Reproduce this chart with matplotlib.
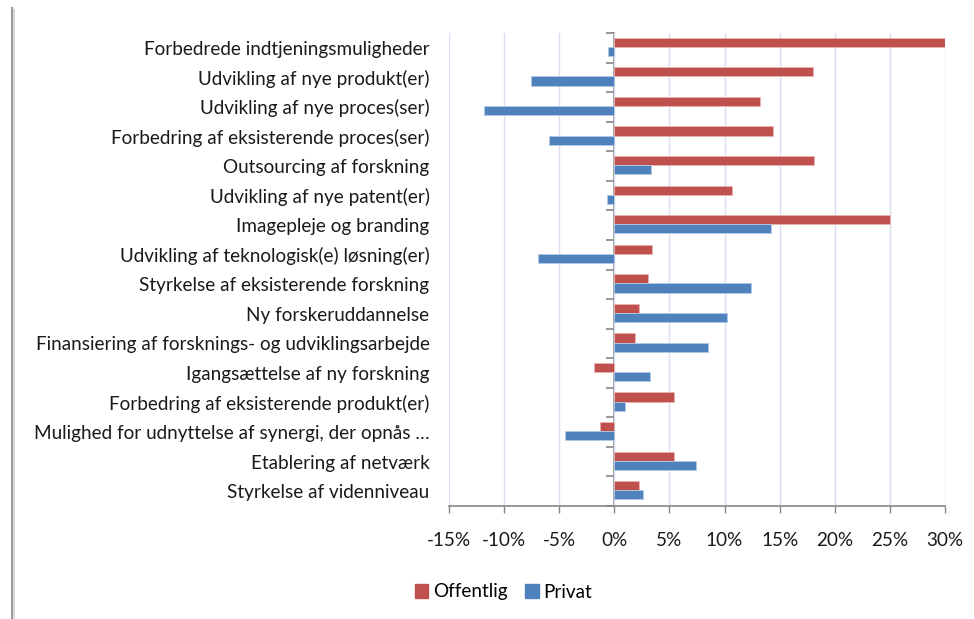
import matplotlib
matplotlib.use("Agg")
import matplotlib.pyplot as plt
import numpy as np
from matplotlib.lines import Line2D
from matplotlib.patches import Patch
from matplotlib.ticker import FixedLocator

plt.rcParams['font.family'] = ['Lato', 'DejaVu Sans']

categories = [
    "Forbedrede indtjeningsmuligheder",
    "Udvikling af nye produkt(er)",
    "Udvikling af nye proces(ser)",
    "Forbedring af eksisterende proces(ser)",
    "Outsourcing af forskning",
    "Udvikling af nye patent(er)",
    "Imagepleje og branding",
    "Udvikling af teknologisk(e) løsning(er)",
    "Styrkelse af eksisterende forskning",
    "Ny forskeruddannelse",
    "Finansiering af forsknings- og udviklingsarbejde",
    "Igangsættelse af ny forskning",
    "Forbedring af eksisterende produkt(er)",
    "Mulighed for udnyttelse af synergi, der opnås …",
    "Etablering af netværk",
    "Styrkelse af videnniveau",
]
offentlig = [30.2, 18.0, 13.25, 14.4, 18.15, 10.7, 25.0, 3.45, 3.05, 2.2, 1.9, -1.85, 5.4, -1.3, 5.4, 2.2]
privat = [-0.6, -7.6, -11.8, -5.9, 3.3, -0.7, 14.2, -6.9, 12.4, 10.2, 8.5, 3.2, 0.95, -4.5, 7.4, 2.6]
xticks = [-15, -10, -5, 0, 5, 10, 15, 20, 25, 30]
xlabels = ["-15%", "-10%", "-5%", "0%", "5%", "10%", "15%", "20%", "25%", "30%"]
series_names = ["Offentlig", "Privat"]

RED = "#C0504D"
BLUE = "#4F81BD"
AXIS = "#868686"
GRID = "#D6E0F1"
FS = 13.6

fig = plt.figure(figsize=(9.74, 6.19), dpi=100)
ax = fig.add_axes([449/974, 1-506/619, 496/974, 473/619])

n = len(categories)
y = np.arange(n)
h = 0.31
ax.barh(y - h/2 - 0.03, offentlig, height=h, color=RED, edgecolor="#E8B3B1", linewidth=0.6, zorder=3)
ax.barh(y + h/2 - 0.03, privat, height=h, color=BLUE, edgecolor="#B3C8E3", linewidth=0.6, zorder=3)

xmin, xmax = -15, 30
ax.set_xlim(xmin, xmax)
ax.set_ylim(n - 0.5, -0.5)

ax.set_xticks(xticks)
ax.set_xticklabels(xlabels, fontsize=FS, color="#1a1a1a")
ax.tick_params(axis='x', length=5, width=1, color=AXIS, pad=14)
ax.set_yticks(y)
ax.set_yticklabels(categories, fontsize=FS, color="#1a1a1a")
ax.tick_params(axis='y', length=0, pad=14)

ax.grid(axis='x', color=GRID, linewidth=1, zorder=0)
for s in ['left', 'right', 'top']:
    ax.spines[s].set_visible(False)
ax.spines['bottom'].set_color(AXIS)
ax.spines['bottom'].set_linewidth(1.2)

# zero axis with category boundary ticks
loc = (0 - xmin) / (xmax - xmin)
sec = ax.secondary_yaxis(loc)
sec.spines['left'].set_color(AXIS)
sec.spines['left'].set_linewidth(1.2)
sec.yaxis.set_major_locator(FixedLocator(np.arange(n + 1) - 0.5))
sec.set_yticklabels([])
sec.tick_params(axis='y', length=6, width=1.2, color=AXIS)

handles = [Patch(color=RED), Patch(color=BLUE)]
fig.legend(handles, series_names, loc='center', bbox_to_anchor=(0.517, 1-592/619),
           ncol=2, frameon=False, fontsize=FS, handlelength=0.7, handleheight=0.7,
           handletextpad=0.25, columnspacing=0.95)

# chart frame left border
fig.add_artist(Line2D([12/974, 12/974], [0, 1-8/619], color="#9a9a9a", linewidth=1.5))
fig.add_artist(Line2D([14/974, 14/974], [0, 1-10/619], color="#d8d8d8", linewidth=1.5))

fig.savefig("out.png", dpi=100, facecolor="white")
